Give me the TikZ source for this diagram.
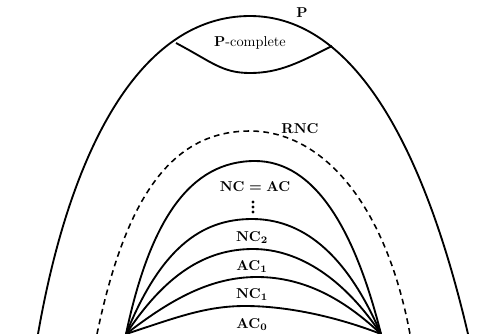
\documentclass[tikz,border=0pt]{standalone}
\begin{document}
\begin{tikzpicture}[x=0.7pt,y=-0.7pt,
  curve/.style={line width=1.3pt, line join=round},
  dcurve/.style={line width=1.1pt, dash pattern=on 4pt off 3pt},
  lbl/.style={inner sep=0pt, font=\boldmath\bfseries}]
\useasboundingbox (0,0) rectangle (492,333);
\begin{scope}
\clip (0,0) rectangle (492,333);
% P
\draw[curve] (38,334) .. controls (70,150) and (140,16) .. (250,16)
  .. controls (355,16) and (425,150) .. (468,334);
% P-complete lower boundary
\draw[curve] (176,43) .. controls (212,62) and (222,73) .. (250,73)
  .. controls (280,73) and (300,62) .. (332,46);
% RNC
\draw[dcurve] (97,334) .. controls (125,200) and (170,131) .. (250,131)
  .. controls (320,131) and (385,200) .. (410,334);
% NC = AC
\draw[curve] (126,334) .. controls (150,220) and (190,161) .. (255,161)
  .. controls (315,161) and (355,230) .. (381,334);
% NC2
\draw[curve] (126,334) .. controls (160,250) and (200,219) .. (252,219)
  .. controls (300,219) and (345,250) .. (381,334);
% AC1
\draw[curve] (126,334) .. controls (165,275) and (205,249) .. (253,249)
  .. controls (300,249) and (345,280) .. (381,334);
% NC1
\draw[curve] (126,334) .. controls (170,300) and (210,277) .. (257,277)
  .. controls (305,277) and (345,300) .. (381,334);
% AC0
\draw[curve] (126,334) .. controls (175,318) and (205,306) .. (245,306)
  .. controls (290,306) and (340,318) .. (381,334);
\end{scope}
% dots
\foreach \y in {202,207,212} \fill (253,\y) circle (1.7);
% labels
\node[lbl] (p) at (302,13) {P};
\node[inner sep=0pt] (pc) at (250,43) {\textbf{P}-complete};
\node[lbl] (rnc) at (300,129) {RNC};
\node[lbl] (ncac) at (255,187) {$\mathbf{NC}=\mathbf{AC}$};
\node[lbl] (nc2) at (252,238) {$\mathbf{NC}_2$};
\node[lbl] (ac1) at (252,267) {$\mathbf{AC}_1$};
\node[lbl] (nc1) at (252,295) {$\mathbf{NC}_1$};
\node[lbl] (ac0) at (252,325) {$\mathbf{AC}_0$};
\end{tikzpicture}
\end{document}
